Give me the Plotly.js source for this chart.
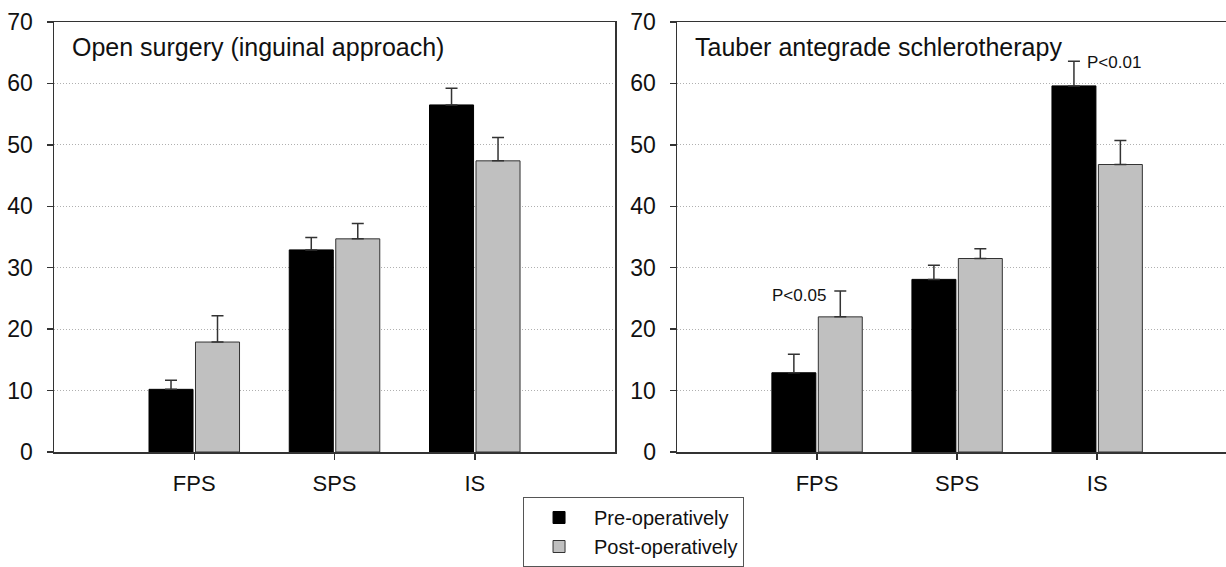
<!DOCTYPE html>
<html>
<head>
<meta charset="utf-8">
<script src="https://cdn.plot.ly/plotly-3.0.1.min.js"></script>
<style>html,body{margin:0;padding:0;background:#fff;}</style>
</head>
<body>
<div id="chart" style="width:1226px;height:567px;"></div>
<script>
const categories = ['FPS', 'SPS', 'IS'];
const seriesNames = ['Pre-operatively', 'Post-operatively'];

const openPre = [10.2, 32.9, 56.5];
const openPreErr = [1.5, 2.0, 2.7];
const openPost = [17.9, 34.7, 47.4];
const openPostErr = [4.3, 2.5, 3.8];

const tauberPre = [12.9, 28.1, 59.6];
const tauberPreErr = [3.0, 2.3, 4.0];
const tauberPost = [22.0, 31.5, 46.8];
const tauberPostErr = [4.2, 1.6, 3.9];

const panelTitles = ['Open surgery (inguinal approach)', 'Tauber antegrade schlerotherapy'];
const pLabels = ['P<0.05', 'P<0.01'];
const pLabelY = [25.4, 63.4];

const FONT = 'Liberation Sans, Arial, sans-serif';
const preColor = '#000000';
const postColor = '#c0c0c0';

function bar(name, x, y, err, color, lineColor, xa, ya, showlegend) {
  return {
    type: 'bar', name: name, x: x, y: y,
    xaxis: xa, yaxis: ya, showlegend: showlegend,
    marker: {color: color, line: {color: lineColor, width: 1}},
    error_y: {type: 'data', array: err, symmetric: false,
              arrayminus: err.map(() => 0), color: '#333', thickness: 1.5, width: 6}
  };
}

const data = [
  bar(seriesNames[0], categories, openPre, openPreErr, preColor, '#000', 'x', 'y', true),
  bar(seriesNames[1], categories, openPost, openPostErr, postColor, '#333', 'x', 'y', true),
  bar(seriesNames[0], categories, tauberPre, tauberPreErr, preColor, '#000', 'x2', 'y2', false),
  bar(seriesNames[1], categories, tauberPost, tauberPostErr, postColor, '#333', 'x2', 'y2', false)
];

const yAxisBase = {
  range: [0, 70], dtick: 10, tick0: 0, automargin: false,
  showgrid: true, gridcolor: '#b0b0b0', griddash: '1px,2px', gridwidth: 1,
  zeroline: false, showline: true, linecolor: '#333', linewidth: 1.5,
  ticks: 'outside', ticklen: 6, tickcolor: '#333', tickwidth: 1.5,
  ticklabelstandoff: 9,
  tickfont: {family: FONT, size: 23, color: '#111'}, fixedrange: true
};
const xAxisBase = {
  type: 'category', showgrid: false, zeroline: false, automargin: false,
  showline: true, linecolor: '#333', linewidth: 1.5, mirror: true,
  ticks: 'outside', ticklen: 6, tickcolor: '#333', tickwidth: 1.5,
  ticklabelstandoff: 5,
  tickfont: {family: FONT, size: 22, color: '#111'}, fixedrange: true
};

const layout = {
  width: 1226, height: 567,
  margin: {l: 54, r: 0, t: 22, b: 115},
  paper_bgcolor: '#fff', plot_bgcolor: '#fff',
  barmode: 'group', bargap: 0.337, bargroupgap: 0.053,
  font: {family: FONT, color: '#111'},
  xaxis: Object.assign({}, xAxisBase, {domain: [0, 0.4787], range: [-1, 3], anchor: 'y'}),
  yaxis: Object.assign({}, yAxisBase, {domain: [0, 1], anchor: 'x', mirror: true}),
  xaxis2: Object.assign({}, xAxisBase, {domain: [0.5316, 1], range: [-1, 2.92], anchor: 'y2'}),
  yaxis2: Object.assign({}, yAxisBase, {domain: [0, 1], anchor: 'x2', mirror: false}),
  showlegend: true,
  legend: {
    x: 0.4002, y: -0.1047, xanchor: 'left', yanchor: 'top',
    bordercolor: '#555', borderwidth: 1, bgcolor: '#fff',
    font: {family: FONT, size: 20, color: '#111'},
    itemwidth: 60, traceorder: 'normal', tracegroupgap: 0
  },
  annotations: [
    {text: panelTitles[0], xref: 'x domain', yref: 'y domain', x: 0.0285, y: 0.942,
     xanchor: 'left', yanchor: 'middle', showarrow: false, font: {family: FONT, size: 25, color: '#111'}},
    {text: panelTitles[1], xref: 'x2 domain', yref: 'y2 domain', x: 0.029, y: 0.942,
     xanchor: 'left', yanchor: 'middle', showarrow: false, font: {family: FONT, size: 25, color: '#111'}},
    {text: pLabels[0], xref: 'x2 domain', yref: 'y2', x: 0.222, y: pLabelY[0],
     xanchor: 'center', yanchor: 'middle', showarrow: false, font: {family: FONT, size: 17, color: '#111'}},
    {text: pLabels[1], xref: 'x2 domain', yref: 'y2', x: 0.743, y: pLabelY[1],
     xanchor: 'left', yanchor: 'middle', showarrow: false, font: {family: FONT, size: 17, color: '#111'}}
  ]
};

Plotly.newPlot('chart', data, layout, {displayModeBar: false, staticPlot: true});
</script>
</body>
</html>
